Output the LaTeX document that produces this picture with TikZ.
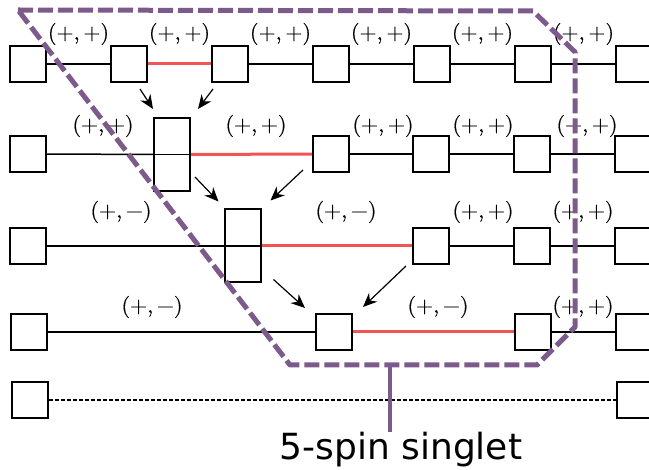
\documentclass[tikz,border=0pt]{standalone}
\usepackage{fontspec}
\newfontfamily\dejavu{DejaVu Sans}
\newfontfamily\labfont{lmroman10-regular}[Extension=.otf,FakeBold=0.5]
\usetikzlibrary{arrows.meta,calc}
\definecolor{singletpurple}{RGB}{125,90,140}
\definecolor{bondred}{RGB}{240,85,85}
\newcommand{\labpp}{(+,\,+)}
\newcommand{\labpm}{(+,\,−)}
\tikzset{
  sq/.style={draw,line width=2pt,minimum size=36pt,inner sep=0pt},
  tallbox/.style={draw,line width=2pt,minimum width=36pt,minimum height=73pt,inner sep=0pt},
  bond/.style={line width=1.5pt},
  redbond/.style={line width=3pt,bondred},
  arr/.style={line width=1.2pt,-{Stealth[length=14pt,width=12pt,inset=4.5pt]}},
  lab/.style={inner sep=0pt,font=\labfont\fontsize{22}{26}\selectfont},
  singlet/.style={line width=5pt,singletpurple,dash pattern=on 15pt off 5pt,line join=round},
}
\begin{document}
\begin{tikzpicture}[x=1pt,y=-1pt]
\useasboundingbox (0,0) rectangle (649,470);
% row 1
\foreach \i/\x in {1/28,2/129,3/230,4/331,5/432,6/533,7/634}{\node[sq] (a\i) at (\x,64) {};}
% row 2
\node[sq] (b1) at (28,154) {};
\node[tallbox] (bt) at (172,154.5) {};
\node[sq] (b3) at (331,154) {};
\node[sq] (b4) at (431,154) {};
\node[sq] (b5) at (532,154) {};
\node[sq] (b6) at (633,154) {};
% row 3
\node[sq] (c1) at (28,246) {};
\node[tallbox] (ct) at (242.5,246) {};
\node[sq] (c3) at (431,246) {};
\node[sq] (c4) at (532,246) {};
\node[sq] (c5) at (633,246) {};
% row 4
\node[sq] (d1) at (28.5,332) {};
\node[sq] (d2) at (334,332) {};
\node[sq] (d3) at (533,332) {};
\node[sq] (d4) at (634,332) {};
% row 5
\node[sq] (e1) at (29.5,400) {};
\node[sq] (e2) at (635,400) {};
% dividers of merged boxes
\draw[line width=1.5pt] (bt.west) -- (bt.east);
\draw[line width=1.5pt] (ct.west) -- (ct.east);
% bonds
\draw[bond] (a1) -- (a2);
\draw[redbond] (a2) -- (a3);
\draw[bond] (a3) -- (a4);
\draw[bond] (a4) -- (a5);
\draw[bond] (a5) -- (a6);
\draw[bond] (a6) -- (a7);
\draw[bond] (b1) -- (bt);
\draw[redbond] (bt) -- (b3);
\draw[bond] (b3) -- (b4);
\draw[bond] (b4) -- (b5);
\draw[bond] (b5) -- (b6);
\draw[bond] (c1) -- (ct);
\draw[redbond] (ct) -- (c3);
\draw[bond] (c3) -- (c4);
\draw[bond] (c4) -- (c5);
\draw[bond] (d1) -- (d2);
\draw[redbond] (d2) -- (d3);
\draw[bond] (d3) -- (d4);
\draw[line width=2pt,dash pattern=on 4pt off 2pt] (e1) -- (e2);
% arrows
\draw[arr] ($(a2)+(11,25)$) -- ($(bt.north west)+(0,-8)$);
\draw[arr] ($(a3)+(-17,25)$) -- ($(bt.north east)+(7,-8)$);
\draw[arr] ($(bt.south east)+(4,-15)$) -- ($(ct.north west)+(-5,-7)$);
\draw[arr] ($(b3.south west)+(-9,-3)$) -- ($(ct.north east)+(9,-8)$);
\draw[arr] ($(ct.south east)+(12,-4)$) -- ($(d2.north west)+(-10,-5)$);
\draw[arr] ($(c3.south west)+(-6,1)$) -- ($(d2.north east)+(10,-6)$);
% labels
\foreach \x in {78.5,179.5,280.5,381.5,482.5,583.5}{\node[lab] at (\x,34) {\labpp};}
\foreach \x in {103,256,383,483,587}{\node[lab] at (\x,126) {\labpp};}
\node[lab] (l31) at (121,212) {\labpm};
\node[lab] (l32) at (346,212) {\labpm};
\node[lab] (l33) at (483,212) {\labpp};
\node[lab] (l34) at (583,212) {\labpp};
\node[lab] (l41) at (152,307) {\labpm};
\node[lab] (l42) at (438,307) {\labpm};
\node[lab] (l43) at (583,307) {\labpp};
% singlet boundary
\draw[singlet] (18,10) -- (533,11) -- (575,52) -- (575,327) -- (537,365) -- (290,365) -- cycle;
\coordinate (ptr) at (390,365);
\node[inner sep=0pt,anchor=base,font=\dejavu\fontsize{36}{40}\selectfont] (singlabel) at (401,460) {5-spin singlet};
\draw[line width=4pt,singletpurple] (ptr) -- (ptr |- singlabel.north);
\end{tikzpicture}
\end{document}
